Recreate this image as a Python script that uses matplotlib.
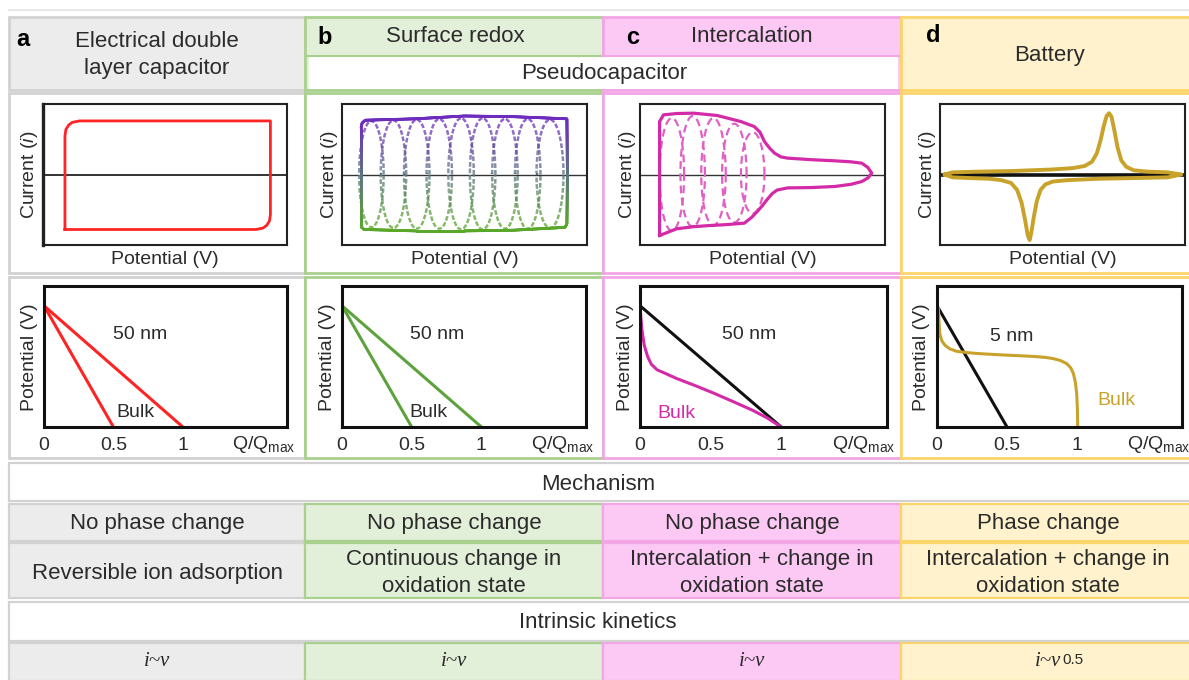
import numpy as np
import matplotlib
matplotlib.use('Agg')
import matplotlib.pyplot as plt
from matplotlib.patches import Rectangle
from matplotlib.collections import LineCollection
from matplotlib.colors import to_rgb

plt.rcParams['font.family'] = ['Liberation Sans', 'DejaVu Sans']
plt.rcParams['mathtext.fontset'] = 'custom'
plt.rcParams['mathtext.rm'] = 'Liberation Sans'
plt.rcParams['mathtext.it'] = 'Liberation Sans:italic'
plt.rcParams['mathtext.bf'] = 'Liberation Sans:bold'

# ---------------- data ----------------
panel_letters = ['a', 'b', 'c', 'd']
col_titles = ['Electrical double\nlayer capacitor', 'Surface redox', 'Intercalation', 'Battery']
pseudo_title = 'Pseudocapacitor'
mechanism_title = 'Mechanism'
kinetics_title = 'Intrinsic kinetics'
phase_rows = ['No phase change', 'No phase change', 'No phase change', 'Phase change']
mech_rows = ['Reversible ion adsorption', 'Continuous change in\noxidation state',
             'Intercalation + change in\noxidation state', 'Intercalation + change in\noxidation state']
kinetics_rows = ['i~v', 'i~v', 'i~v', 'i~v']
kinetics_exp = ['', '', '', '0.5']
cv_ylabel = 'Current ($\\mathit{i}$)'
cv_xlabel = 'Potential (V)'
gcd_ylabel = 'Potential (V)'
gcd_ticks = [0, 0.5, 1]
gcd_ticklabels = ['0', '0.5', '1']
gcd_xlabel = 'Q/Q$_{\\mathrm{max}}$'
gcd_size_labels = ['50 nm', '50 nm', '50 nm', '5 nm']

# CV a : EDLC rectangle
cv_a_x = [0.090, 0.090, 0.094, 0.105, 0.120, 0.150, 0.932, 0.932, 0.928, 0.917, 0.902, 0.872, 0.090]
cv_a_y = [-0.78, 0.55, 0.64, 0.70, 0.74, 0.76, 0.76, -0.57, -0.66, -0.72, -0.76, -0.78, -0.78]

# CV b : surface redox envelope + loops
cv_b_env_x = [0.078, 0.078, 0.082, 0.095, 0.30, 0.50, 0.70, 0.918, 0.920, 0.918, 0.910, 0.70, 0.50, 0.30, 0.090, 0.078]
cv_b_env_y = [-0.74, 0.66, 0.73, 0.77, 0.79, 0.83, 0.82, 0.79, 0.00, -0.70, -0.75, -0.79, -0.80, -0.80, -0.78, -0.74]
cv_b_loop_centers = [0.120, 0.210, 0.305, 0.397, 0.486, 0.574, 0.665, 0.758, 0.849]
cv_b_loop_halfwidth = [0.050, 0.052, 0.052, 0.052, 0.052, 0.052, 0.052, 0.052, 0.055]
cv_b_loop_top = [0.76, 0.77, 0.78, 0.79, 0.80, 0.80, 0.79, 0.79, 0.78]
cv_b_loop_bottom = [-0.75, -0.76, -0.77, -0.77, -0.78, -0.78, -0.77, -0.77, -0.76]

# CV c : intercalation pseudocapacitance
cv_c_x = [0.080, 0.080, 0.096, 0.150, 0.219, 0.315, 0.411, 0.466, 0.490, 0.508, 0.530, 0.549, 0.575,
          0.603, 0.700, 0.795, 0.860, 0.905, 0.930, 0.946, 0.930, 0.905, 0.860, 0.795, 0.700, 0.603,
          0.560, 0.540, 0.520, 0.500, 0.480, 0.455, 0.426, 0.357, 0.280, 0.219, 0.150, 0.080]
cv_c_y = [-0.865, 0.752, 0.846, 0.865, 0.870, 0.837, 0.752, 0.681, 0.600, 0.468, 0.370, 0.303, 0.250,
          0.232, 0.210, 0.194, 0.180, 0.161, 0.100, 0.019, -0.050, -0.100, -0.140, -0.170, -0.185, -0.190,
          -0.220, -0.270, -0.350, -0.440, -0.520, -0.610, -0.690, -0.710, -0.725, -0.740, -0.770, -0.865]
cv_c_loop_centers = [0.130, 0.215, 0.300, 0.385, 0.460]
cv_c_loop_halfwidth = [0.050, 0.050, 0.050, 0.050, 0.048]
cv_c_loop_top = [0.80, 0.83, 0.80, 0.72, 0.60]
cv_c_loop_bottom = [-0.80, -0.74, -0.72, -0.68, -0.55]

# CV d : battery (upper branch left->right, then lower branch right->left)
cv_d_x = [0.020, 0.050, 0.150, 0.300, 0.450, 0.540, 0.590, 0.620, 0.640, 0.655, 0.668, 0.680, 0.690,
          0.700, 0.712, 0.725, 0.740, 0.760, 0.790, 0.850, 0.930, 0.985,
          0.985, 0.930, 0.800, 0.650, 0.520, 0.460, 0.430, 0.410, 0.395, 0.383, 0.373, 0.366, 0.358,
          0.347, 0.333, 0.315, 0.290, 0.250, 0.200, 0.120, 0.050, 0.020]
cv_d_y = [0.00, 0.03, 0.04, 0.05, 0.07, 0.09, 0.12, 0.18, 0.30, 0.48, 0.68, 0.83, 0.87,
          0.82, 0.62, 0.38, 0.20, 0.11, 0.06, 0.04, 0.03, 0.00,
          0.00, -0.04, -0.05, -0.06, -0.08, -0.10, -0.14, -0.22, -0.38, -0.60, -0.82, -0.93, -0.86,
          -0.64, -0.40, -0.22, -0.12, -0.08, -0.06, -0.05, -0.04, 0.00]

# GCD curves (x = Q/Qmax, y = potential, normalised)
gcd_a_fast_x = [0.0, 1.0]
gcd_a_fast_y = [0.86, 0.0]
gcd_a_bulk_x = [0.0, 0.5]
gcd_a_bulk_y = [0.86, 0.0]
gcd_c_nano_x = [0.0, 1.0]
gcd_c_nano_y = [0.86, 0.0]
gcd_c_bulk_x = [0.0, 0.006, 0.0135, 0.030, 0.054, 0.080, 0.122, 0.180, 0.257, 0.400, 0.527, 0.660, 0.797, 0.900, 1.0]
gcd_c_bulk_y = [0.857, 0.780, 0.690, 0.580, 0.500, 0.445, 0.405, 0.380, 0.345, 0.290, 0.238, 0.180, 0.119, 0.065, 0.0]
gcd_d_nano_x = [0.0, 0.5]
gcd_d_nano_y = [0.86, 0.0]
gcd_d_bulk_x = [0.010, 0.014, 0.020, 0.035, 0.057, 0.090, 0.140, 0.220, 0.307, 0.450, 0.600, 0.700,
                0.780, 0.830, 0.880, 0.926, 0.955, 0.974, 0.988, 0.998, 1.003, 1.005]
gcd_d_bulk_y = [0.840, 0.750, 0.660, 0.610, 0.580, 0.555, 0.537, 0.527, 0.520, 0.512, 0.505, 0.500,
                0.493, 0.485, 0.472, 0.450, 0.420, 0.380, 0.320, 0.236, 0.120, 0.0]

# ---------------- style / layout ----------------
W, H = 1189, 680
TXT = '#2b2b2b'
col_x = [(9, 305), (305, 603), (603, 901), (901, 1192)]
col_fc = ['#ececec', '#e2efd9', '#fcc9f5', '#fff2cc']
col_ec = ['#d2d2d2', '#a9d08e', '#f2a6e6', '#fbd56a']
RED = '#ff2424'
PURPLE = '#6e2cbf'
GREEN_CV = '#5aa82a'
GREEN = '#5da23c'
MAGENTA = '#d42aa8'
MAGENTA_L = '#e060c4'
GOLD = '#c8a22a'

fig = plt.figure(figsize=(W / 100, H / 100), dpi=100)
bg = fig.add_axes([0, 0, 1, 1])
bg.set_xlim(0, W)
bg.set_ylim(H, 0)
bg.axis('off')


def cell(x0, y0, x1, y1, fc, ec, lw=1.6, z=1):
    bg.add_patch(Rectangle((x0, y0), x1 - x0, y1 - y0, fc=fc, ec=ec, lw=lw, zorder=z))


def txt(x, y, s, size=16, **kw):
    kw.setdefault('color', TXT)
    bg.text(x, y, s, fontsize=size, ha=kw.pop('ha', 'center'), va=kw.pop('va', 'center'),
            linespacing=kw.pop('linespacing', 1.4), **kw)


# top rule
bg.plot([9, W], [10, 10], color='#e3e3e3', lw=1.2)

rows = {'head': (17, 90), 'cv': (93, 273), 'gcd': (277, 458), 'mech': (463, 501),
        'phase': (504, 541), 'desc': (543, 598), 'kin_t': (602, 641), 'kin': (643, 681)}

for i, (x0, x1) in enumerate(col_x):
    cell(x0, rows['head'][0], x1, rows['head'][1], col_fc[i], col_ec[i], lw=2)
    cell(x0, rows['cv'][0], x1, rows['cv'][1], 'white', col_ec[i], lw=2)
    cell(x0, rows['gcd'][0], x1, rows['gcd'][1], 'white', col_ec[i], lw=2)
    cell(x0, rows['phase'][0], x1, rows['phase'][1], col_fc[i], col_ec[i], lw=1.6)
    cell(x0, rows['desc'][0], x1, rows['desc'][1], col_fc[i], col_ec[i], lw=1.6)
    cell(x0, rows['kin'][0], x1, rows['kin'][1], col_fc[i], col_ec[i], lw=1.6)

# pseudocapacitor bar
cell(309, 56, 898, 89, 'white', 'none', lw=0, z=2)
bg.plot([307, 603], [55.5, 55.5], color=col_ec[1], lw=1.5, zorder=3)
bg.plot([603, 899], [55.5, 55.5], color=col_ec[2], lw=1.5, zorder=3)
# white full-width rows
cell(9, rows['mech'][0], W + 3, rows['mech'][1], 'white', '#d2d2d2', lw=1.6)
cell(9, rows['kin_t'][0], W + 3, rows['kin_t'][1], 'white', '#d2d2d2', lw=1.6)

# header texts
txt(157, 55, col_titles[0], size=16)
txt(455, 36, col_titles[1], size=16)
txt(752, 36, col_titles[2], size=16)
txt(1050, 55, col_titles[3], size=16)
txt(604, 74, pseudo_title, size=16, zorder=4)
letter_pos = [(23, 39), (325, 38), (633, 38), (933, 36)]
for (lx, ly), l in zip(letter_pos, panel_letters):
    txt(lx, ly, l, size=17, weight='bold', color='black')

txt(598, 485, mechanism_title)
txt(598, 623, kinetics_title)
centers = [(a + min(b, W)) / 2 + (0 if i < 3 else 3) for i, (a, b) in enumerate(col_x)]
for i, cx in enumerate(centers):
    txt(cx, 524, phase_rows[i])
    txt(cx, 573, mech_rows[i])
    t = bg.text(cx, 662, kinetics_rows[i], fontsize=15, family='Liberation Serif', style='italic',
                ha='center', va='center', color=TXT)
    if kinetics_exp[i]:
        bg.annotate(kinetics_exp[i], xy=(1, 1), xycoords=t, xytext=(1, 0), textcoords='offset points',
                    fontsize=11, ha='left', va='top', color=TXT)


def add_ax(x0, y0, x1, y1):
    a = fig.add_axes([x0 / W, 1 - y1 / H, (x1 - x0) / W, (y1 - y0) / H])
    a.set_zorder(5)
    return a


def grad_line(ax, x, y, lw, dashed, pxx, pxy, ctop=PURPLE, cbot=GREEN_CV, dash=4.5, gap=2.2):
    x = np.asarray(x, float)
    y = np.asarray(y, float)
    d = np.hypot(np.diff(x) * pxx, np.diff(y) * pxy)
    s = np.concatenate([[0], np.cumsum(d)])
    ss = np.linspace(0, s[-1], max(int(s[-1] * 2), 50))
    xs = np.interp(ss, s, x)
    ys = np.interp(ss, s, y)
    segs = np.stack([np.column_stack([xs[:-1], ys[:-1]]), np.column_stack([xs[1:], ys[1:]])], axis=1)
    smid = 0.5 * (ss[:-1] + ss[1:])
    keep = (smid % (dash + gap)) < dash if dashed else np.ones(len(smid), bool)
    ymid = 0.5 * (ys[:-1] + ys[1:])
    tt = np.clip((ymid + 0.75) / 1.5, 0, 1)[:, None]
    mid = np.array([0.36, 0.46, 0.50])
    c_bot = np.array(to_rgb(cbot))
    c_top = np.array(to_rgb(ctop))
    cols = np.where(tt < 0.5, c_bot * (1 - 2 * tt) + mid * 2 * tt, mid * (2 - 2 * tt) + c_top * (2 * tt - 1))
    lc = LineCollection(segs[keep], colors=cols[keep], linewidths=lw, capstyle='round' if not dashed else 'butt')
    ax.add_collection(lc)


def loop_xy(c, w, top, bot):
    t = np.linspace(0, 2 * np.pi, 120)
    yy = np.where(np.sin(t) > 0, top * np.sin(t), -bot * np.sin(t))
    return c + w * np.cos(t), yy


cv_pos = [(43, 104, 287, 245), (342, 104, 587, 245), (640, 104, 885, 245), (940, 104, 1185, 245)]
cv_ylab_x = [30, 329, 627, 927]
cv_axes = []
for i, (x0, y0, x1, y1) in enumerate(cv_pos):
    a = add_ax(x0, y0, x1, y1)
    a.set_xlim(0, 1)
    a.set_ylim(-1, 1)
    a.set_xticks([])
    a.set_yticks([])
    for sp in a.spines.values():
        sp.set_linewidth(1.5)
        sp.set_color('#222222')
    if i == 0:
        a.spines['left'].set_linewidth(2.4)
    a.axhline(0, color='#333333' if i != 3 else '#111111', lw=1.4 if i == 0 else (1.0 if i < 3 else 2.6),
              zorder=1)
    txt((x0 + x1) / 2, 260, cv_xlabel, size=14)
    bg.text(cv_ylab_x[i], 175, cv_ylabel, rotation=90, fontsize=14, ha='center', va='center', color=TXT)
    cv_axes.append(a)

# CV a
cv_axes[0].plot(cv_a_x, cv_a_y, color=RED, lw=2.0, solid_joinstyle='round', zorder=3)
# CV b
pxx, pxy = 245, 70.5
for c, w, tp, bt in zip(cv_b_loop_centers, cv_b_loop_halfwidth, cv_b_loop_top, cv_b_loop_bottom):
    lx, ly = loop_xy(c, w, tp, bt)
    grad_line(cv_axes[1], lx, ly, 1.7, True, pxx, pxy)
grad_line(cv_axes[1], cv_b_env_x, cv_b_env_y, 2.0, False, pxx, pxy)
# CV c
for c, w, tp, bt in zip(cv_c_loop_centers, cv_c_loop_halfwidth, cv_c_loop_top, cv_c_loop_bottom):
    lx, ly = loop_xy(c, w, tp, bt)
    cv_axes[2].plot(lx, ly, color=MAGENTA_L, lw=1.6, ls=(0, (3.5, 2)), zorder=2)
cv_axes[2].plot(cv_c_x, cv_c_y, color=MAGENTA, lw=2.3, solid_joinstyle='round', zorder=3)
# CV d
cv_axes[3].plot(cv_d_x, cv_d_y, color=GOLD, lw=2.8, solid_joinstyle='round', zorder=3)

# GCD
gcd_pos = [(44, 286, 287, 427), (342, 286, 586, 427), (640, 286, 887, 427), (937, 286, 1182, 427)]
gcd_ylab_x = [29, 327, 625, 922]
gcd_axes = []
for i, (x0, y0, x1, y1) in enumerate(gcd_pos):
    a = add_ax(x0, y0, x1, y1)
    a.set_xlim(0, 1.75)
    a.set_ylim(0, 1)
    a.set_yticks([])
    a.set_xticks(gcd_ticks)
    a.set_xticklabels(gcd_ticklabels, fontsize=14, color=TXT)
    a.tick_params(axis='x', length=0, pad=7)
    for sp in a.spines.values():
        sp.set_linewidth(2.2)
        sp.set_color('#111111')
    a.text(0.905, -0.125, gcd_xlabel, transform=a.transAxes, fontsize=14, ha='center', va='center', color=TXT)
    bg.text(gcd_ylab_x[i], 357, gcd_ylabel, rotation=90, fontsize=14, ha='center', va='center', color=TXT)
    gcd_axes.append(a)

gcd_axes[0].plot(gcd_a_fast_x, gcd_a_fast_y, color=RED, lw=2.2)
gcd_axes[0].plot(gcd_a_bulk_x, gcd_a_bulk_y, color=RED, lw=2.2)
gcd_axes[0].text(0.695, 0.657, gcd_size_labels[0], fontsize=14, ha='center', va='center', color=TXT)
gcd_axes[0].text(0.655, 0.10, 'Bulk', fontsize=14, ha='center', va='center', color=TXT)

gcd_axes[1].plot(gcd_a_fast_x, gcd_a_fast_y, color=GREEN, lw=2.2)
gcd_axes[1].plot(gcd_a_bulk_x, gcd_a_bulk_y, color=GREEN, lw=2.2)
gcd_axes[1].text(0.685, 0.657, gcd_size_labels[1], fontsize=14, ha='center', va='center', color=TXT)
gcd_axes[1].text(0.62, 0.10, 'Bulk', fontsize=14, ha='center', va='center', color=TXT)

gcd_axes[2].plot(gcd_c_nano_x, gcd_c_nano_y, color='#111111', lw=2.2)
gcd_axes[2].plot(gcd_c_bulk_x, gcd_c_bulk_y, color=MAGENTA, lw=2.2)
gcd_axes[2].text(0.77, 0.655, gcd_size_labels[2], fontsize=14, ha='center', va='center', color=TXT)
gcd_axes[2].text(0.257, 0.095, 'Bulk', fontsize=14, ha='center', va='center', color=MAGENTA)

gcd_axes[3].plot(gcd_d_nano_x, gcd_d_nano_y, color='#111111', lw=2.2)
gcd_axes[3].plot(gcd_d_bulk_x, gcd_d_bulk_y, color=GOLD, lw=2.2)
gcd_axes[3].text(0.533, 0.64, gcd_size_labels[3], fontsize=14, ha='center', va='center', color=TXT)
gcd_axes[3].text(1.283, 0.185, 'Bulk', fontsize=14, ha='center', va='center', color=GOLD)

fig.savefig('out.png', dpi=100)
